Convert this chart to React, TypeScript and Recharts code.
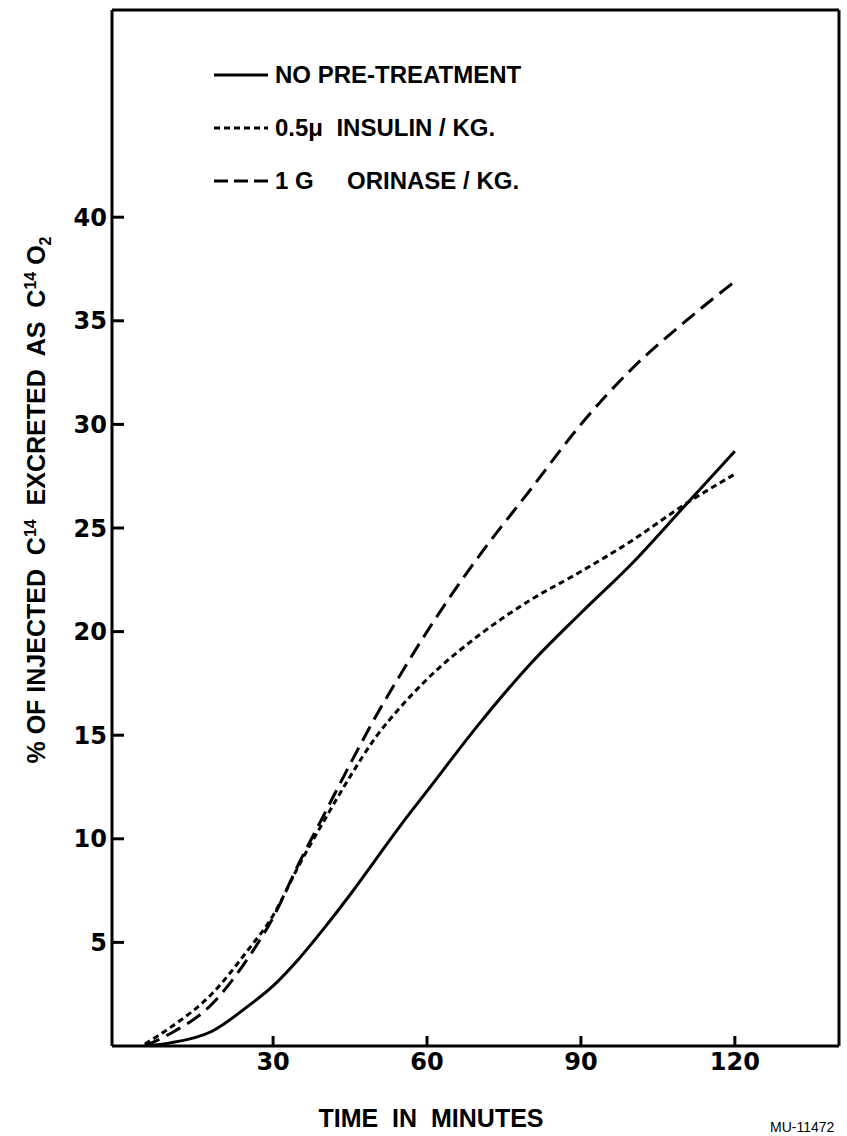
import React from 'react';
import { LineChart, Line, XAxis, YAxis, Legend } from 'recharts';

// minutes after injection, sampled along the three curves
const minutes = [5, 10, 18, 25, 30, 35, 40, 45, 50, 55, 60, 70, 80, 90, 100, 110, 120];
const noPreTreatment = [0, 0.15, 0.7, 1.9, 2.9, 4.2, 5.7, 7.3, 9.0, 10.7, 12.3, 15.5, 18.4, 20.9, 23.3, 26.0, 28.7];
const insulin = [0.1, 0.9, 2.5, 4.6, 6.3, 8.7, 10.9, 13.0, 14.9, 16.4, 17.7, 19.8, 21.5, 22.9, 24.4, 26.1, 27.6];
const orinase = [0, 0.6, 2.0, 4.2, 6.2, 8.8, 11.2, 13.6, 15.9, 18.0, 20.0, 23.6, 26.8, 30.0, 32.7, 34.9, 36.9];

const xTicks = [30, 60, 90, 120];
const yTicks = [5, 10, 15, 20, 25, 30, 35, 40];

const data = minutes.map((t, i) => ({
  t,
  none: noPreTreatment[i],
  insulin: insulin[i],
  orinase: orinase[i],
}));

const tickFont = { fontFamily: 'DejaVu Sans', fontWeight: 700, fontSize: 24, fill: '#000' };
const labelFont = { fontFamily: 'Liberation Sans', fontWeight: 700, fontSize: 25, fill: '#000' };
const axisStroke = { stroke: '#000', strokeWidth: 3 };

const legendRows = [
  { key: 'none', dash: undefined, text: 'NO PRE-TREATMENT' },
  { key: 'insulin', dash: '6 4', text: '0.5\u03bc  INSULIN / KG.' },
  { key: 'orinase', dash: '14 6', text: '1 G     ORINASE / KG.' },
];

const renderLegend = () => (
  <div style={{ fontFamily: 'Liberation Sans', fontWeight: 700, fontSize: 24, color: '#000' }}>
    {legendRows.map((r) => (
      <div key={r.key} style={{ display: 'flex', alignItems: 'center', height: 53 }}>
        <svg width={54} height={6}>
          <line x1={0} y1={3} x2={54} y2={3} stroke="#000" strokeWidth={3} strokeDasharray={r.dash} />
        </svg>
        <span style={{ marginLeft: 7, whiteSpace: 'pre' }}>{r.text}</span>
      </div>
    ))}
  </div>
);

const XTitle = () => (
  <text x={431} y={1127} textAnchor="middle" style={{ whiteSpace: 'pre' }} {...labelFont}>
    TIME  IN  MINUTES
  </text>
);

const YTitle = () => (
  <text transform="translate(45,500) rotate(-90)" textAnchor="middle" style={{ whiteSpace: 'pre' }} {...labelFont}>
    {'% OF INJECTED  C'}
    <tspan dy={-9} fontSize={16}>14</tspan>
    <tspan dy={9}>{'  EXCRETED  AS  C'}</tspan>
    <tspan dy={-9} fontSize={16}>14</tspan>
    <tspan dy={9}>{' O'}</tspan>
    <tspan dy={6} fontSize={16}>2</tspan>
  </text>
);

const FigNumber = () => (
  <text x={770} y={1132} fontFamily="Liberation Sans" fontSize={14} fill="#000">
    MU-11472
  </text>
);

export default function App() {
  return (
    <div style={{ position: 'absolute', left: 0, top: 0, background: '#fff' }}>
      <LineChart width={847} height={1136} data={data} margin={{ top: 0, right: 0, bottom: 0, left: 0 }}>
        <XAxis
          dataKey="t"
          type="number"
          domain={[-1.4, 140.3]}
          allowDataOverflow
          ticks={xTicks}
          height={90}
          tickSize={-10}
          tickMargin={17}
          axisLine={axisStroke}
          tickLine={axisStroke}
          tick={tickFont}
          label={{ content: () => <XTitle /> }}
        />
        <XAxis
          xAxisId="top"
          orientation="top"
          dataKey="t"
          type="number"
          domain={[-1.4, 140.3]}
          allowDataOverflow
          ticks={xTicks}
          height={10}
          tickSize={-10}
          tick={false}
          axisLine={axisStroke}
          tickLine={axisStroke}
          label={{ content: () => <FigNumber /> }}
        />
        <YAxis
          type="number"
          domain={[0, 50]}
          allowDataOverflow
          ticks={yTicks}
          width={112}
          tickSize={-12}
          tickMargin={17}
          axisLine={axisStroke}
          tickLine={axisStroke}
          tick={tickFont}
          label={{ content: () => <YTitle /> }}
        />
        <YAxis
          yAxisId="right"
          orientation="right"
          type="number"
          domain={[0, 50]}
          allowDataOverflow
          ticks={yTicks}
          width={8}
          tickSize={-9}
          tick={false}
          axisLine={axisStroke}
          tickLine={axisStroke}
        />
        <Legend
          layout="vertical"
          align="center"
          verticalAlign="middle"
          wrapperStyle={{ top: 48, left: 214, width: 420 }}
          content={renderLegend}
        />
        <Line type="monotone" dataKey="none" name="NO PRE-TREATMENT" stroke="#000" strokeWidth={3} dot={false} isAnimationActive={false} />
        <Line type="monotone" dataKey="insulin" name="0.5\u03bc INSULIN / KG." stroke="#000" strokeWidth={3} strokeDasharray="6 4" dot={false} isAnimationActive={false} />
        <Line type="monotone" dataKey="orinase" name="1 G ORINASE / KG." stroke="#000" strokeWidth={3} strokeDasharray="16 8" dot={false} isAnimationActive={false} />
      </LineChart>
    </div>
  );
}
